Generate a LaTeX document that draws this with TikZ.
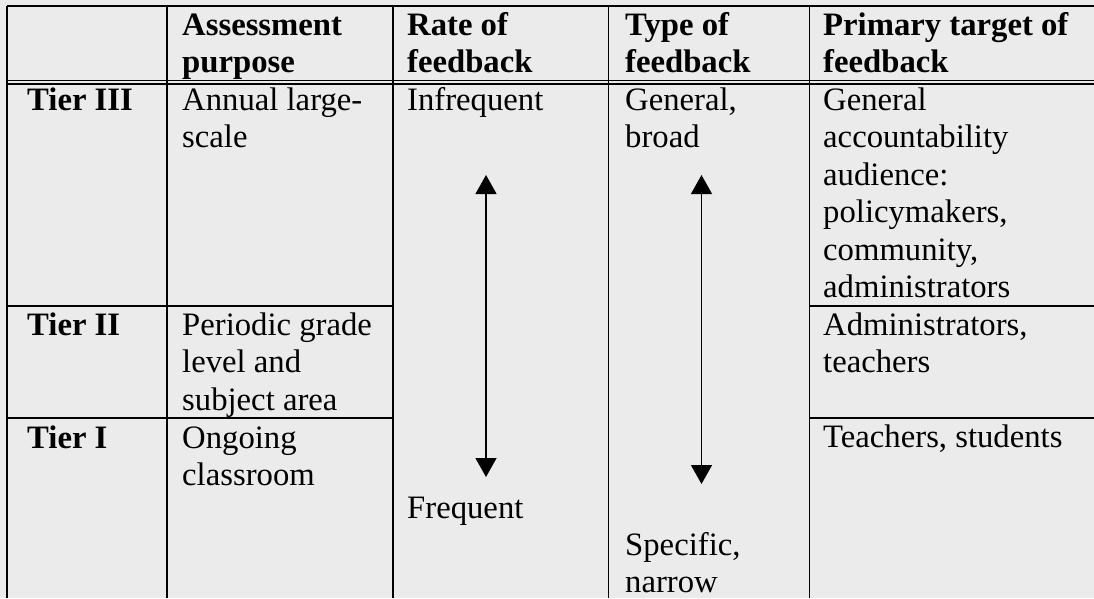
\documentclass[tikz,border=0pt]{standalone}
\usepackage{fontspec}
\setmainfont{Liberation Serif}
\usetikzlibrary{arrows.meta,positioning}

\newcommand\cellfont{\fontsize{32.7}{37.5}\selectfont}
\definecolor{sheetgray}{HTML}{EBEBEB}

\tikzset{
  cell/.style={anchor=base west, align=left, inner sep=0pt, font=\cellfont},
  hd/.style={cell, font=\cellfont\bfseries},
  extralines/.style={yshift={-37.5pt*#1}},
  rule/.style={line width=1.6pt},
  tierarrow/.style={line width=1.3pt,
    {Triangle[width=21pt,length=19pt]}-{Triangle[width=21pt,length=19pt]}}
}

\begin{document}
\begin{tikzpicture}[x=1pt,y=-1pt]
            % Tabla de niveles de evaluacion y retroalimentacion
            \fill[sheetgray] (0,0) rectangle (1094,598);
            \useasboundingbox (0,0) rectangle (1094,598);
            \draw[rule] (7,6) -- (1094,6);
            \draw[line width=1.2pt] (7,80.5) -- (1094,80.5);
            \draw[line width=1.2pt] (7,84) -- (1094,84);
            \foreach \x in {7,167,393,608.5,809.5} {
                \draw[rule] (\x,6) -- (\x,598);
            }
            \foreach \y in {306,418} {
                \draw[rule] (7,\y) -- (393,\y);
                \draw[rule] (809.5,\y) -- (1094,\y);
            }

            % encabezados (la base del nodo es la ultima linea)
            \node[hd, extralines=1] (hpurpose) at (182,35) {Assessment\\purpose};
            \node[hd, extralines=1] (hrate) at (407,35) {Rate of\\feedback};
            \node[hd, extralines=1] (htype) at (625,35) {Type of\\feedback};
            \node[hd, extralines=1] (htarget) at (823,35) {Primary target of\\feedback};

            % niveles
            \node[hd] (tierthree) at (27,110) {Tier III};
            \node[hd] (tiertwo) at (27,335) {Tier II};
            \node[hd] (tierone) at (27,448) {Tier I};

            \node[cell, extralines=1] (purposethree) at (182,110) {Annual large-\\scale};
            \node[cell, extralines=2] (purposetwo) at (182,335) {Periodic grade\\level and\\subject area};
            \node[cell, extralines=1] (purposeone) at (182,448) {Ongoing\\classroom};

            \node[cell] (ratelow) at (407,110) {Infrequent};
            \node[cell] (ratehigh) at (407,518) {Frequent};
            \node[cell, extralines=1] (typegeneral) at (625,110) {General,\\broad};
            \node[cell, extralines=1] (typespecific) at (625,555) {Specific,\\narrow};

            \node[cell, extralines=5] (targetthree) at (823,110) {General\\accountability\\audience:\\policymakers,\\community,\\administrators};
            \node[cell, extralines=1] (targettwo) at (823,335) {Administrators,\\teachers};
            \node[cell] (targetone) at (823,447) {Teachers, students};

            % flechas
            \coordinate (ratetop) at (486,175);
            \coordinate (ratebot) at (486,477);
            \coordinate (typetop) at (701.5,175);
            \coordinate (typebot) at (701.5,484);
            \draw[tierarrow] (ratetop) -- (ratebot);
            \draw[tierarrow] (typetop) -- (typebot);
        \end{tikzpicture}
\end{document}
